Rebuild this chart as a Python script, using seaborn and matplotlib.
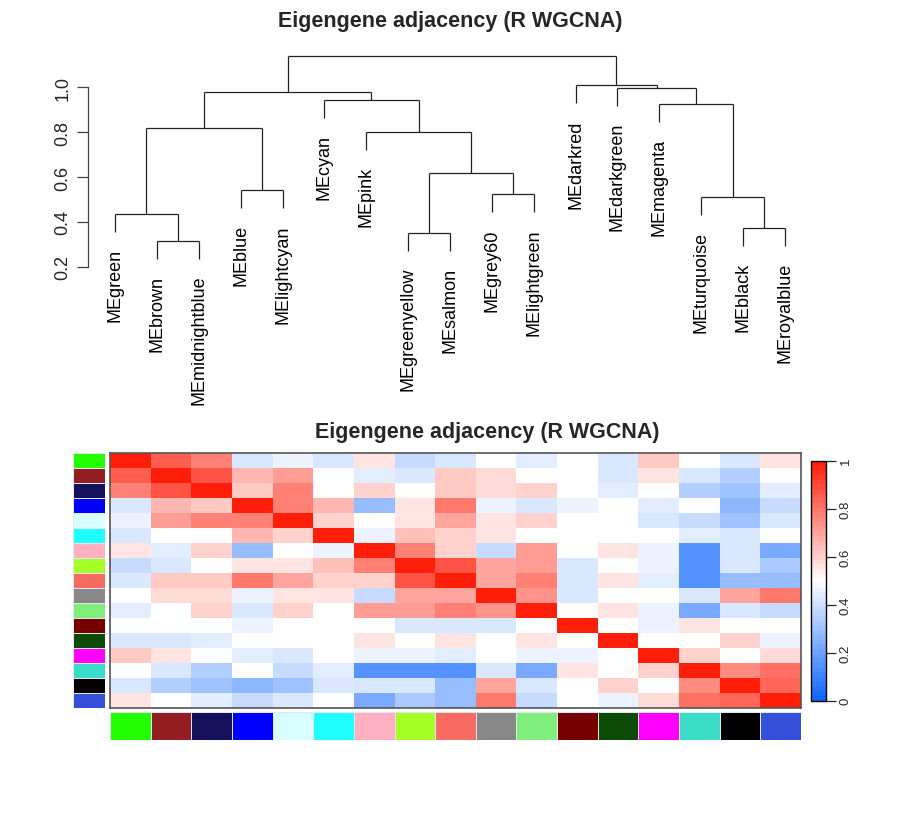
import matplotlib

matplotlib.use("Agg")
import matplotlib.pyplot as plt
import numpy as np
import pandas as pd
import seaborn as sns
from matplotlib.colors import LinearSegmentedColormap, ListedColormap

W, H = 900, 820

MODULES = [
    "green", "brown", "midnightblue", "blue", "lightcyan", "cyan", "pink",
    "greenyellow", "salmon", "grey60", "lightgreen", "darkred", "darkgreen",
    "magenta", "turquoise", "black", "royalblue",
]
MODULE_COLORS = [
    "#22ff00", "#921e22", "#14105a", "#0000ff", "#d8ffff", "#20ffff", "#ffafc2",
    "#a3ff26", "#f76b60", "#888888", "#80ee7c", "#760000", "#0b4b05",
    "#ff00ff", "#3bdcc8", "#000000", "#3450d8",
]

# hclust merges, in the order R builds them (int = earlier merge)
MERGE_LEFT = ["brown", "green", "blue", 1, "greenyellow", "grey60", 4, "pink",
              "cyan", 3, "black", "turquoise", "magenta", "darkgreen", "darkred", 9]
MERGE_RIGHT = ["midnightblue", 0, "lightcyan", 2, "salmon", "lightgreen", 5, 6,
               7, 8, "royalblue", 10, 11, 12, 13, 14]
MERGE_HEIGHT = [0.316, 0.434, 0.542, 0.817, 0.352, 0.523, 0.619, 0.801, 0.942,
                0.978, 0.374, 0.511, 0.927, 0.998, 1.010, 1.138]
HANG = 0.081

# eigengene adjacency, rows/cols in MODULES order
ADJ = [
    [1.00, 0.85, 0.78, 0.43, 0.47, 0.42, 0.55, 0.39, 0.42, 0.50, 0.45, 0.50, 0.42, 0.62, 0.50, 0.42, 0.55],
    [0.85, 1.00, 0.88, 0.65, 0.72, 0.50, 0.45, 0.42, 0.62, 0.58, 0.50, 0.50, 0.42, 0.55, 0.42, 0.35, 0.50],
    [0.78, 0.88, 1.00, 0.62, 0.78, 0.50, 0.60, 0.50, 0.62, 0.58, 0.60, 0.50, 0.45, 0.50, 0.35, 0.30, 0.45],
    [0.43, 0.65, 0.62, 1.00, 0.77, 0.65, 0.28, 0.55, 0.80, 0.47, 0.42, 0.47, 0.50, 0.45, 0.50, 0.27, 0.38],
    [0.47, 0.72, 0.78, 0.77, 1.00, 0.60, 0.50, 0.55, 0.70, 0.55, 0.60, 0.50, 0.50, 0.43, 0.38, 0.31, 0.42],
    [0.42, 0.50, 0.50, 0.65, 0.60, 1.00, 0.47, 0.63, 0.60, 0.55, 0.50, 0.50, 0.50, 0.50, 0.45, 0.43, 0.50],
    [0.55, 0.45, 0.60, 0.28, 0.50, 0.47, 1.00, 0.77, 0.60, 0.39, 0.72, 0.50, 0.55, 0.47, 0.14, 0.42, 0.22],
    [0.39, 0.42, 0.50, 0.55, 0.55, 0.63, 0.77, 1.00, 0.87, 0.70, 0.72, 0.42, 0.50, 0.47, 0.14, 0.42, 0.33],
    [0.42, 0.62, 0.62, 0.80, 0.70, 0.60, 0.60, 0.87, 1.00, 0.70, 0.78, 0.43, 0.55, 0.45, 0.15, 0.28, 0.28],
    [0.50, 0.58, 0.58, 0.47, 0.55, 0.55, 0.39, 0.70, 0.70, 1.00, 0.74, 0.43, 0.50, 0.50, 0.42, 0.69, 0.80],
    [0.45, 0.50, 0.60, 0.42, 0.60, 0.50, 0.72, 0.72, 0.78, 0.74, 1.00, 0.50, 0.55, 0.47, 0.22, 0.43, 0.39],
    [0.50, 0.50, 0.50, 0.47, 0.50, 0.50, 0.50, 0.42, 0.43, 0.43, 0.50, 1.00, 0.50, 0.47, 0.55, 0.50, 0.50],
    [0.42, 0.42, 0.45, 0.50, 0.50, 0.50, 0.55, 0.50, 0.55, 0.50, 0.55, 0.50, 1.00, 0.50, 0.50, 0.60, 0.47],
    [0.62, 0.55, 0.50, 0.45, 0.43, 0.50, 0.47, 0.47, 0.45, 0.50, 0.47, 0.47, 0.50, 1.00, 0.60, 0.50, 0.58],
    [0.50, 0.42, 0.35, 0.50, 0.38, 0.45, 0.14, 0.14, 0.15, 0.42, 0.22, 0.55, 0.50, 0.60, 1.00, 0.75, 0.82],
    [0.42, 0.35, 0.30, 0.27, 0.31, 0.43, 0.42, 0.42, 0.28, 0.69, 0.43, 0.50, 0.60, 0.50, 0.75, 1.00, 0.84],
    [0.55, 0.50, 0.45, 0.38, 0.42, 0.50, 0.22, 0.33, 0.28, 0.80, 0.39, 0.50, 0.47, 0.58, 0.82, 0.84, 1.00],
]

DENDRO_TICKS = [0.2, 0.4, 0.6, 0.8, 1.0]
CBAR_TICKS = [0, 0.2, 0.4, 0.6, 0.8, 1]
CBAR_LABELS = ["0", "0.2", "0.4", "0.6", "0.8", "1"]
TITLE = "Eigengene adjacency (R WGCNA)"


def px_box(x0, y0, x1, y1):
    return [x0 / W, 1 - y1 / H, (x1 - x0) / W, (y1 - y0) / H]


sns.set_style("white")
plt.rcParams["font.family"] = ["Liberation Sans", "DejaVu Sans"]

fig = plt.figure(figsize=(W / 100, H / 100), dpi=100)

# ---- dendrogram
ax_d = fig.add_axes(px_box(88, 50, 812, 267.7))
leaf_x = {name: i for i, name in enumerate(MODULES)}
node_x = []
line_kw = dict(color="#222222", lw=0.9, solid_capstyle="butt")
for left, right, h in zip(MERGE_LEFT, MERGE_RIGHT, MERGE_HEIGHT):
    xs = []
    for child in (left, right):
        if isinstance(child, str):
            cx, cy = leaf_x[child], h - HANG
            ax_d.annotate(
                "ME" + child, xy=(cx, cy), xytext=(0, -11.5),
                textcoords="offset points", rotation=90, ha="center", va="top",
                fontsize=13, color="black",
            )
        else:
            cx, cy = node_x[child], MERGE_HEIGHT[child]
        ax_d.plot([cx, cx], [cy, h], **line_kw)
        xs.append(cx)
    ax_d.plot(xs, [h, h], **line_kw)
    node_x.append(sum(xs) / 2)

ax_d.set_xlim(-0.645, len(MODULES) - 1 + 0.645)
ax_d.set_ylim(0.2, 0.2 + 217.7 / 224.25)
ax_d.set_xticks([])
ax_d.set_yticks(DENDRO_TICKS)
ax_d.set_yticklabels([f"{t:.1f}" for t in DENDRO_TICKS], rotation=90, va="center")
ax_d.tick_params(axis="y", left=True, length=8, width=0.9, color="#444444",
                 pad=4, labelsize=13)
for side in ("top", "right", "bottom"):
    ax_d.spines[side].set_visible(False)
ax_d.spines["left"].set_bounds(0.2, 1.0)
ax_d.spines["left"].set_color("#444444")
ax_d.spines["left"].set_linewidth(0.9)
ax_d.patch.set_alpha(0)

fig.text(450 / W, 1 - 22 / H, TITLE, ha="center", va="center",
         fontsize=15.5, fontweight="bold")

# ---- adjacency heatmap (odd N so 0.5 lands on pure white)
cmap = LinearSegmentedColormap.from_list(
    "bwr_wgcna", ["#1068ff", "#ffffff", "#ff1e0a"], N=51
)
adj_df = pd.DataFrame(np.array(ADJ), index=MODULES, columns=MODULES)

ax_hm = fig.add_axes(px_box(110, 454.3, 801, 709))
ax_cb = fig.add_axes(px_box(811, 461.7, 825.7, 701.7))
sns.heatmap(adj_df, ax=ax_hm, cmap=cmap, vmin=0, vmax=1, cbar_ax=ax_cb,
            xticklabels=False, yticklabels=False)
for spine in ax_hm.spines.values():
    spine.set_visible(True)
    spine.set_color("#555555")
    spine.set_linewidth(1.2)

cbar = ax_hm.collections[0].colorbar
cbar.set_ticks(CBAR_TICKS)
cbar.set_ticklabels(CBAR_LABELS)
cbar.ax.tick_params(length=7, width=0.9, labelsize=9.5, pad=3, right=True)
for lbl in cbar.ax.get_yticklabels():
    lbl.set_rotation(90)
    lbl.set_va("center")
cbar.outline.set_visible(True)
cbar.outline.set_edgecolor("black")
cbar.outline.set_linewidth(1)

strip_cmap = ListedColormap(MODULE_COLORS)
idx = np.arange(len(MODULES))
ax_left = fig.add_axes(px_box(73.3, 454.3, 105.3, 709))
sns.heatmap(idx.reshape(-1, 1), ax=ax_left, cmap=strip_cmap, cbar=False,
            vmin=-0.5, vmax=len(MODULES) - 0.5, xticklabels=False,
            yticklabels=False, linewidths=0.4, linecolor="#e4e4f4")
ax_bot = fig.add_axes(px_box(110, 713.3, 801, 741))
sns.heatmap(idx.reshape(1, -1), ax=ax_bot, cmap=strip_cmap, cbar=False,
            vmin=-0.5, vmax=len(MODULES) - 0.5, xticklabels=False,
            yticklabels=False, linewidths=0.4, linecolor="#e4e4f4")

fig.text(487 / W, 1 - 433 / H, TITLE, ha="center", va="center",
         fontsize=15.5, fontweight="bold")

fig.savefig("out.png", dpi=100)
